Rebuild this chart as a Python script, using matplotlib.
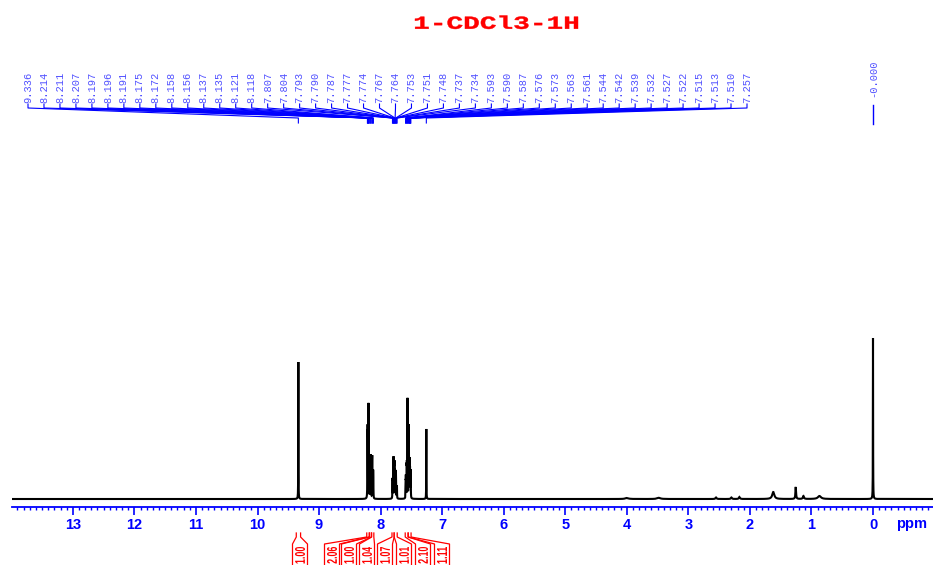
import numpy as np
import matplotlib
matplotlib.use("Agg")
import matplotlib.pyplot as plt
from matplotlib.ticker import MultipleLocator
from matplotlib.textpath import TextPath
from matplotlib.font_manager import FontProperties
from matplotlib.patches import PathPatch
from matplotlib.transforms import Affine2D

# ---------------- data ----------------
title = "1-CDCl3-1H"

peak_labels = [9.336, 8.214, 8.211, 8.207, 8.197, 8.196, 8.191, 8.175, 8.172,
               8.158, 8.156, 8.137, 8.135, 8.121, 8.118, 7.807, 7.804, 7.793,
               7.790, 7.787, 7.777, 7.774, 7.767, 7.764, 7.753, 7.751, 7.748,
               7.737, 7.734, 7.593, 7.590, 7.587, 7.576, 7.573, 7.563, 7.561,
               7.544, 7.542, 7.539, 7.532, 7.527, 7.522, 7.515, 7.513, 7.510,
               7.257]
peak_heights = [137, 53, 56, 38, 50, 50, 33, 30, 31,
                30, 30, 29, 30, 23, 23, 16, 16, 28,
                29, 28, 29, 29, 22, 22, 17, 17, 15,
                10, 10, 14, 17, 14, 27, 29, 70, 66,
                45, 45, 40, 30, 34, 26, 17, 17, 17,
                70]
tms_ppm = 0.000
tms_height = 161

# minor impurity / broad peaks (ppm, height, half-width)
minor_ppm = [1.62, 1.255, 1.13, 0.87, 2.17, 2.30, 2.55, 3.48, 4.00]
minor_height = [7, 12, 3, 3, 2, 1.5, 1.5, 1.2, 1.0]
minor_width = [0.02, 0.006, 0.01, 0.03, 0.01, 0.01, 0.01, 0.03, 0.03]

integral_values = ["1.00", "2.06", "1.00", "1.04", "1.07", "1.01", "2.10", "1.11"]
integral_start = [9.37, 8.225, 8.180, 8.145, 7.815, 7.780, 7.600, 7.550]
integral_end = [9.30, 8.185, 8.150, 8.110, 7.780, 7.730, 7.555, 7.505]

major_ticks = list(range(0, 14))

# ---------------- figure ----------------
W, H = 933, 565
fig = plt.figure(figsize=(W / 100, H / 100), dpi=100)
fig.patch.set_facecolor("white")

ax_left_px, ax_right_px = 12, 933
axis_y_px, top_px = 507, 130
ax = fig.add_axes([ax_left_px / W, (H - axis_y_px) / H,
                   (ax_right_px - ax_left_px) / W, (axis_y_px - top_px) / H])
ppm_per_px = 1 / 61.55
x_left = (873 - ax_left_px) * ppm_per_px
x_right = (873 - ax_right_px) * ppm_per_px
ax.set_xlim(x_left, x_right)
ax.set_ylim(-8, -8 + (axis_y_px - top_px))

x = np.linspace(-1.0, 14.0, 300001)
y = np.zeros_like(x)
hw = 0.0016
for p, h in zip(peak_labels, peak_heights):
    y += h / (1 + ((x - p) / hw) ** 2)
y += tms_height / (1 + ((x - tms_ppm) / 0.0018) ** 2)
for p, h, w in zip(minor_ppm, minor_height, minor_width):
    y += h / (1 + ((x - p) / w) ** 2)
ax.plot(x, y, color="black", lw=1.5, solid_joinstyle="miter")

for s in ["top", "left", "right"]:
    ax.spines[s].set_visible(False)
ax.spines["bottom"].set_color("#0000ff")
ax.spines["bottom"].set_linewidth(1.3)
ax.set_yticks([])
ax.set_xticks(major_ticks)
ax.xaxis.set_minor_locator(MultipleLocator(0.1))
ax.tick_params(axis="x", which="major", direction="out", length=6, width=1.2,
               color="#0000ff", labelcolor="#0000ff", pad=2, labelsize=10.5)
ax.tick_params(axis="x", which="minor", direction="out", length=2.5, width=1.0,
               color="#0000ff")
for lab in ax.get_xticklabels():
    lab.set_fontweight("bold")
    lab.set_family("Liberation Sans")
ax.patch.set_alpha(0)

# overlay in pixel coordinates (y grows downward)
ov = fig.add_axes([0, 0, 1, 1], zorder=5)
ov.set_xlim(0, W)
ov.set_ylim(H, 0)
ov.axis("off")


def ppm2px(p):
    return ax.transData.transform((p, 0))[0]


ov.text(912, 524, "ppm", color="#0000ff", fontsize=10.5, fontweight="bold",
        family="Liberation Sans", ha="center", va="center")

# title, stretched to match the reference width
tp = TextPath((0, 0), title, size=20,
              prop=FontProperties(family="Liberation Mono", weight="bold"))
bb = tp.get_extents()
sx = 163 / bb.width
sy = 13.5 / bb.height
tr = Affine2D().translate(-bb.x0, -bb.y0).scale(sx, -sy).translate(415, 29) + ov.transData
ov.add_patch(PathPatch(tp, transform=tr, facecolor="#ff0000", edgecolor="#ff0000",
                       lw=0.3))

# peak labels
lab_col = "#5050ff"
line_col = "#0000ff"
n = len(peak_labels)
lx0, lx1 = 28, 747
for i, p in enumerate(peak_labels):
    lx = lx0 + i * (lx1 - lx0) / (n - 1)
    px = ppm2px(p)
    ov.text(lx, 103, f"{p:.3f}", rotation=90, ha="center", va="bottom",
            fontsize=7.5, family="Liberation Mono", color=lab_col)
    ov.plot([lx, lx, px, px], [104, 108, 118, 123], color=line_col, lw=0.8)
tx = ppm2px(tms_ppm)
ov.text(tx, 97, "-0.000", rotation=90, ha="center", va="bottom",
        fontsize=7.5, family="Liberation Mono", color=lab_col)
ov.plot([tx, tx], [105, 124], color=line_col, lw=1.0)

# integrals
box_centers = [300, 332, 349, 367, 385, 404, 423, 442]
bw = 7.5
ifont = FontProperties(family="Liberation Sans", weight="bold")
for val, s, e, bc in zip(integral_values, integral_start, integral_end, box_centers):
    xa, xb = ppm2px(s), ppm2px(e)
    ov.plot([xa, xa, bc - bw, bc - bw], [533, 537, 544, 570], color="#ff0000", lw=0.9)
    ov.plot([xb, xb, bc + bw, bc + bw], [533, 537, 544, 570], color="#ff0000", lw=0.9)
    ip = TextPath((0, 0), val, size=12, prop=ifont)
    ib = ip.get_extents()
    a = 10.0 / ib.height     # across the text
    b = 16.5 / ib.width      # along the text
    cy = (ib.y0 + ib.y1) / 2
    ybot = 563.5
    M = np.array([[0, -a, bc + a * cy],
                  [-b, 0, ybot + b * ib.x0],
                  [0, 0, 1]])
    ov.add_patch(PathPatch(ip, transform=Affine2D(M) + ov.transData,
                           facecolor="#ff0000", edgecolor="none"))

fig.savefig("out.png", dpi=100, facecolor="white")
